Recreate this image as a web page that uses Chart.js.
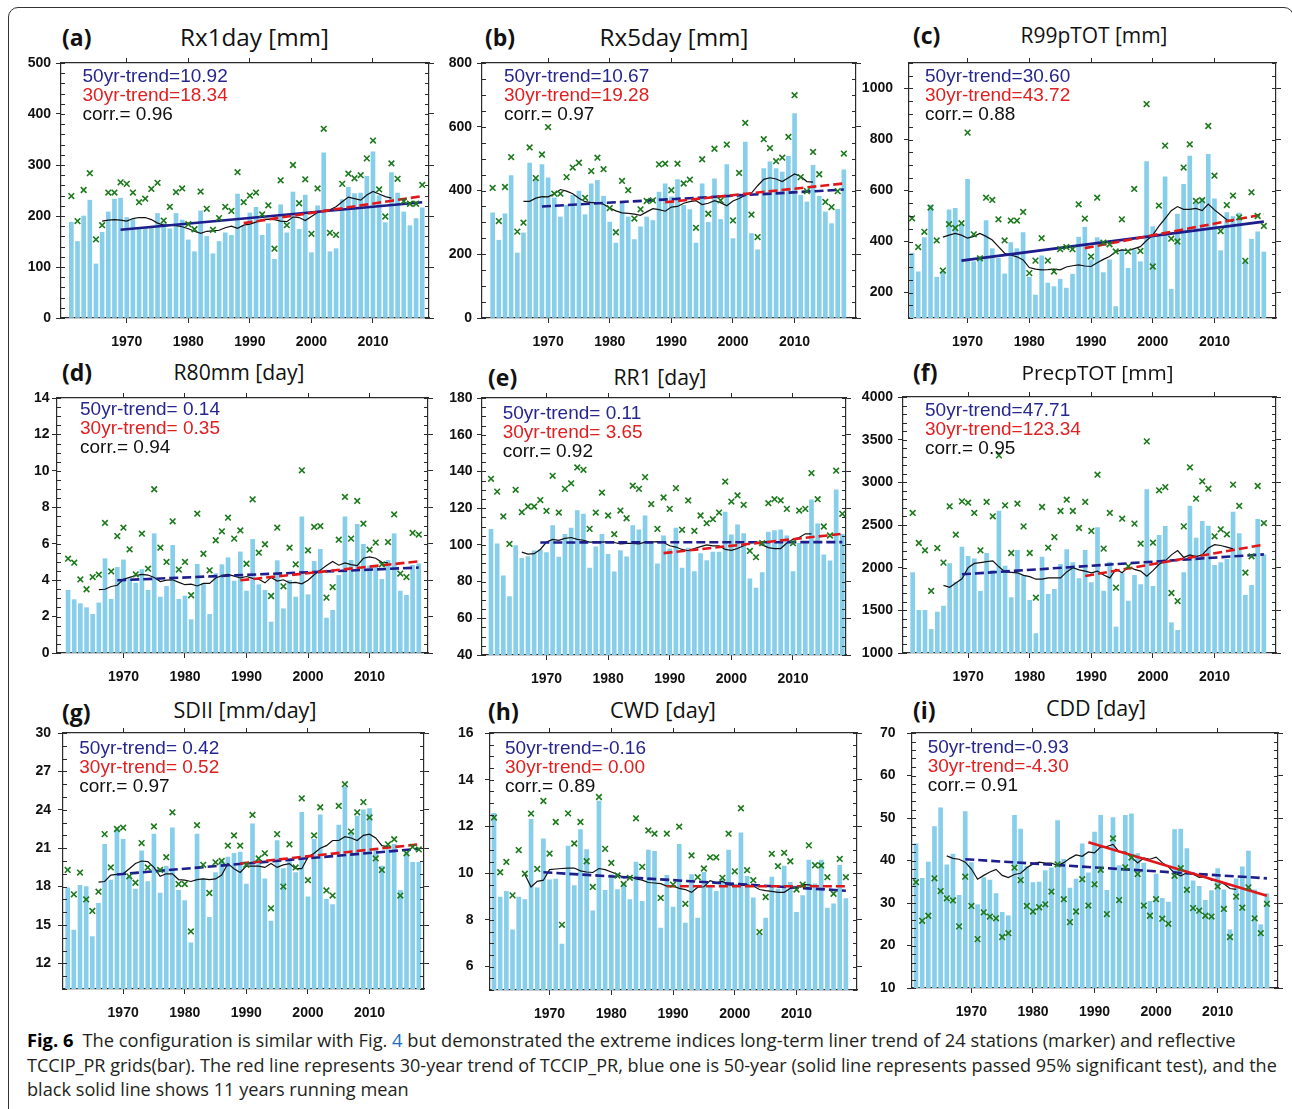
<!DOCTYPE html>
<html>
<head>
<meta charset="utf-8">
<title>Fig. 6 extreme indices trends</title>
<script src="https://cdn.jsdelivr.net/npm/chart.js@4.4.1/dist/chart.umd.min.js"></script>
<style>
  html, body { margin: 0; padding: 0; background: #fff; }
  body { width: 1292px; height: 1109px; position: relative; overflow: hidden; font-family: "Open Sans", "Noto Sans", sans-serif; }
  #frame { position: absolute; left: 8px; top: 7px; width: 1286px; height: 1140px; border: 1.5px solid #333; border-radius: 10px; box-sizing: border-box; }
  .letter { position: absolute; font-weight: 700; font-size: 23px; line-height: 1; transform: translateY(-50%); color: #111; white-space: nowrap; }
  .title { position: absolute; font-size: 22px; line-height: 1; transform: translate(-50%, -50%); color: #111; white-space: nowrap; }
  .cap { position: absolute; left: 27px; font-size: 18px; line-height: 1; transform: translateY(-50%); white-space: nowrap; color: #231f20; }
  .cap b { color: #000; }
  .cap .ref { color: #1a6ebd; }
</style>
</head>
<body>
<div id="frame"></div>
<div class="cap" id="cap1" style="top:1040px"><b>Fig. 6</b>&ensp;The configuration is similar with Fig. <span class="ref">4</span> but demonstrated the extreme indices long-term liner trend of 24 stations (marker) and reflective</div>
<div class="cap" id="cap2" style="top:1065px">TCCIP_PR grids(bar). The red line represents 30-year trend of TCCIP_PR, blue one is 50-year (solid line represents passed 95% significant test), and the</div>
<div class="cap" id="cap3" style="top:1089px">black solid line shows 11 years running mean</div>
<script>
// ---- data ----
const years = [1961,1962,1963,1964,1965,1966,1967,1968,1969,1970,1971,1972,1973,1974,1975,1976,1977,1978,1979,1980,
  1981,1982,1983,1984,1985,1986,1987,1988,1989,1990,1991,1992,1993,1994,1995,1996,1997,1998,1999,2000,
  2001,2002,2003,2004,2005,2006,2007,2008,2009,2010,2011,2012,2013,2014,2015,2016,2017,2018];
const meanYears = years.slice(5, 53); // 11-yr running mean, 1966-2013
const trend50Years = [1969, 2018];
const trend30Years = [1989, 2018];
const xTicks = [1970, 1980, 1990, 2000, 2010];

// (a) Rx1day
const rx1dayBar = [188,150,200,231,106,168,208,233,235,197, 193,177,176,180,205,185,175,205,192,153,
  130,210,160,126,150,167,162,243,180,206, 217,162,185,115,222,167,247,174,241,128,
  220,324,130,136,232,256,244,245,278,326, 240,187,285,245,208,181,195,216];
const rx1dayStn = [239,190,251,284,154,182,246,246,266,263, 246,227,234,253,265,191,218,247,254,184,
  174,248,214,173,196,218,210,286,227,240, 246,203,221,136,270,182,300,225,272,165,
  254,371,167,163,263,283,274,280,313,348, 252,199,303,273,229,224,224,261];
const rx1dayMean = [190,192,193,192,190,195,197,197,193,186, 182,182,181,179,175,170,166,170,171,172,
  177,180,176,182,184,188,193,194,193,190, 189,198,197,191,199,207,211,212,218,228,
  237,234,231,241,248,243,238,235];
const rx1dayTrend50 = [173, 227];
const rx1dayTrend30 = [186, 239];
const rx1dayNotes = ['50yr-trend=10.92', '30yr-trend=18.34', 'corr.= 0.96'];
const rx1dayTicks = [0, 100, 200, 300, 400, 500];

// (b) Rx5day
const rx5dayBar = [330,244,327,447,204,267,486,434,481,440, 377,317,354,385,398,324,421,432,382,301,
  235,364,317,246,286,317,306,395,421,380, 434,354,340,235,421,300,437,309,481,249,
  390,552,265,214,469,490,469,458,507,641, 385,364,479,382,333,296,341,465];
const rx5dayStn = [408,304,411,505,271,299,535,439,513,599, 390,390,442,472,487,377,461,503,467,345,
  269,430,401,312,341,367,369,482,484,401, 484,422,434,283,498,327,531,369,544,306,
  455,612,324,254,561,533,492,503,568,699, 442,398,521,451,364,348,398,516];
const rx5dayMean = [366,366,376,381,380,390,403,398,390,376, 365,362,362,357,345,336,330,328,326,322,
  333,343,340,335,348,350,360,365,368,356, 360,368,362,352,367,375,385,392,415,435,
  440,436,428,440,452,444,428,426];
const rx5dayTrend50 = [350, 403];
const rx5dayTrend30 = [363, 422];
const rx5dayNotes = ['50yr-trend=10.67', '30yr-trend=19.28', 'corr.= 0.97'];
const rx5dayTicks = [0, 200, 400, 600, 800];

// (c) R99pTOT
const r99Bar = [354,281,415,543,260,282,524,530,465,644, 321,341,482,372,334,273,396,372,435,260,
  190,344,237,223,252,217,272,417,456,328, 415,278,328,145,367,295,367,321,713,458,
  419,654,213,508,624,735,552,569,742,567, 364,513,498,511,325,409,438,359];
const r99Stn = [491,378,438,533,404,286,468,453,472,827, 428,334,572,563,487,404,482,482,516,276,
  325,413,325,282,370,378,370,546,490,341, 572,396,389,361,487,361,606,363,939,302,
  541,776,411,400,690,781,559,562,853,658, 441,543,580,495,324,593,500,461];
const r99Mean = [417,425,432,425,413,420,432,420,406,380, 354,347,340,328,298,292,289,290,292,289,
  300,305,308,304,302,317,330,341,360,367, 364,372,380,404,425,460,490,521,537,526,
  526,530,521,547,524,505,485,479];
const r99Trend50 = [325, 478];
const r99Trend30 = [374, 507];
const r99Notes = ['50yr-trend=30.60', '30yr-trend=43.72', 'corr.= 0.88'];
const r99Ticks = [200, 400, 600, 800, 1000];

// (d) R80mm
const r80Bar = [3.44,2.93,2.71,2.49,2.12,2.75,5.18,2.95,4.70,5.11, 4.08,3.84,4.58,3.44,6.55,3.07,3.66,5.91,2.95,3.13,
  1.83,4.87,3.81,2.12,4.36,4.85,5.23,3.95,5.55,3.40, 6.24,3.75,3.44,1.70,5.07,2.43,3.99,3.07,7.47,3.20,
  5.03,5.69,1.92,2.34,4.26,7.47,5.09,7.06,5.97,4.78, 4.81,4.04,5.09,6.55,3.40,3.17,4.81,4.90];
const r80Stn = [5.18,4.96,4.04,3.50,4.17,4.30,7.14,4.48,6.42,6.88, 5.69,4.32,6.55,4.63,8.99,5.78,5.00,7.23,4.58,5.00,
  3.17,7.65,5.45,4.54,6.19,6.68,7.43,6.28,6.73,4.90, 8.44,5.51,5.97,3.13,6.88,3.66,5.78,4.87,10.03,5.64,
  6.92,6.97,3.04,3.62,6.22,8.57,6.28,8.35,7.10,5.67, 6.06,4.87,6.09,7.61,4.36,4.17,6.59,6.50];
const r80Mean = [3.48,3.50,3.65,3.72,4.05,4.15,4.25,4.32,4.28,4.15, 3.92,4.00,4.02,3.88,3.75,3.78,3.68,3.82,3.82,4.12,
  4.25,4.32,4.22,4.12,4.20,4.10,4.05,3.85,4.15,3.95, 4.02,3.85,3.88,3.80,4.00,4.30,4.55,4.80,5.02,4.82,
  4.95,4.85,4.80,5.20,5.28,5.20,4.98,4.95];
const r80Trend50 = [3.99, 4.69];
const r80Trend30 = [3.99, 5.03];
const r80Notes = ['50yr-trend= 0.14', '30yr-trend= 0.35', 'corr.= 0.94'];
const r80Ticks = [0, 2, 4, 6, 8, 10, 12, 14];

// (e) RR1
const rr1Bar = [108.5,100.5,83.1,71.8,99.6,92.7,93.6,96.7,97.3,95.8, 110.5,93.3,105.8,109.1,118.7,116.7,87.3,98.9,105.8,94.9,
  85.3,96.9,93.5,110.5,108.2,115.8,101.8,89.6,104.9,97.8, 109.1,87.3,98.2,85.5,95.3,91.5,96.0,96.0,117.8,105.5,
  110.9,106.2,81.5,76.4,84.9,106.9,107.8,108.2,104.9,85.5, 100.9,101.5,124.5,111.5,94.5,91.3,130.0,105.8];
const rr1Stn = [136,129,115.5,100.5,130,117.8,120.9,120.9,124.4,118.5, 137.6,117.6,130.5,133.5,142.2,140.9,108.7,117.6,128.5,116.0,
  105.8,118.7,114.5,132.2,130.5,136.9,122.2,108.7,125.8,119.6, 130.9,108.2,124.2,107.6,116.0,111.8,114.0,117.6,134.5,123.6,
  126.9,121.8,96.7,93.3,100.9,122.7,124.9,124.2,119.6,100.9, 118.7,119.6,139.1,124.9,110.0,105.1,140.4,116.9];
const rr1Mean = [96.0,95.0,95.2,97.5,101.5,103.0,102.5,103.5,104.0,103.0, 102.5,101.5,101.5,101.5,101.8,101.3,100.5,100.8,100.8,100.5,
  101.5,101.5,101.8,101.3,99.5,98.8,97.5,96.8,98.0,99.0, 100.0,99.5,99.5,97.5,97.0,98.0,99.5,101.0,101.5,100.0,
  98.5,98.0,98.0,101.0,103.0,104.0,106.0,106.0];
const rr1Trend50 = [101.3, 101.5];
const rr1Trend30 = [95.5, 106.0];
const rr1Notes = ['50yr-trend= 0.11', '30yr-trend= 3.65', 'corr.= 0.92'];
const rr1Ticks = [40, 60, 80, 100, 120, 140, 160, 180];

// (f) PrecpTOT
const precBar = [1941,1500,1500,1277,1480,1551,2047,1832,2242,2133, 2105,1723,2168,1969,2664,2020,1648,2203,1910,1617,
  1227,2125,1688,1746,2039,2211,2059,1871,2203,1824, 2469,1727,2066,1305,1930,1609,1910,1801,2914,1781,
  2379,2484,1355,1266,1941,2723,2348,2543,2488,2027, 2059,2098,2652,2398,1676,1793,2566,2152];
const precStn = [2641,2289,2203,1727,2230,2059,2719,2387,2777,2762, 2641,2203,2770,2602,3316,2730,2172,2750,2484,2172,
  1648,2711,2234,2359,2664,2797,2664,2465,2770,2430, 3090,2223,2641,1766,2574,2016,2516,2281,3480,2293,
  2906,2945,1703,1609,2484,3176,2809,3012,2926,2367, 2449,2391,2973,2723,1941,2133,2957,2523];
const precMean = [1793,1770,1820,1870,2000,2050,2060,2070,2080,2010, 1950,1945,1940,1910,1895,1865,1865,1880,1880,1880,
  1950,2000,1975,1960,1940,1960,1915,1880,1980,1940, 2010,1980,1960,1900,1965,2040,2080,2150,2200,2120,
  2150,2130,2150,2230,2270,2260,2240,2220];
const precTrend50 = [1922, 2156];
const precTrend30 = [1902, 2270];
const precNotes = ['50yr-trend=47.71', '30yr-trend=123.34', 'corr.= 0.95'];
const precTicks = [1000, 1500, 2000, 2500, 3000, 3500, 4000];

// (g) SDII
const sdiiBar = [17.9,14.6,18.1,18.0,14.1,16.7,21.3,18.5,22.5,21.7, 18.8,17.8,20.8,18.4,22.1,17.5,19.6,22.6,17.7,16.9,
  13.6,22.1,18.6,15.6,19.1,20.0,20.3,20.6,20.7,18.2, 22.9,20.1,18.6,15.3,21.6,19.4,20.0,19.1,23.8,17.2,
  21.7,23.6,17.0,16.6,22.8,25.8,22.2,23.5,24.0,24.1, 21.0,19.6,20.9,21.3,17.7,20.7,19.9,19.9];
const sdiiStn = [19.3,17.4,19.1,17.0,16.1,17.6,22.1,19.5,22.5,22.6, 18.8,18.3,21.4,19.5,22.7,19.3,20.3,23.8,18.2,18.2,
  14.5,22.8,19.7,17.5,19.9,20.0,21.2,22.0,21.2,19.7, 23.6,20.2,20.6,16.3,22.1,18.0,21.3,19.5,24.9,18.5,
  22.0,24.2,17.7,17.3,24.3,26.0,22.3,23.8,24.6,23.4, 20.2,19.3,21.3,21.7,17.3,20.6,21.1,20.9];
const sdiiMean = [18.35,18.4,18.9,18.95,19.0,19.4,19.8,20.0,19.95,19.5, 18.8,19.0,19.0,18.55,18.5,18.4,18.55,18.6,18.55,18.6,
  18.9,19.8,19.4,19.1,19.6,19.6,19.6,19.5,19.8,19.5, 19.7,19.8,19.4,19.4,20.3,20.6,21.0,21.2,21.6,21.6,
  21.9,21.8,21.6,22.0,22.1,21.8,21.2,21.1];
const sdiiTrend50 = [18.95, 20.95];
const sdiiTrend30 = [19.8, 21.3];
const sdiiNotes = ['50yr-trend= 0.42', '30yr-trend= 0.52', 'corr.= 0.97'];
const sdiiTicks = [12, 15, 18, 21, 24, 27, 30];

// (h) CWD
const cwdBar = [12.56,8.98,9.22,7.58,8.98,8.87,12.30,9.37,11.47,9.72, 9.75,6.97,11.16,9.47,11.87,11.01,8.39,13.09,9.27,9.94,
  9.30,9.58,8.87,10.47,8.79,10.99,10.94,7.65,9.91,8.55, 11.23,7.86,9.94,8.08,10.04,9.44,9.22,9.72,10.99,9.51,
  11.73,9.87,8.94,7.36,8.08,9.83,9.32,10.30,9.61,8.32, 9.04,10.56,9.54,10.56,8.51,8.69,10.34,8.91];
const cwdStn = [12.38,10.04,10.48,9.05,10.99,9.98,12.55,10.18,13.09,10.84, 12.19,7.79,12.56,11.27,12.19,10.51,9.41,13.26,11.04,10.44,
  9.90,9.54,9.80,12.35,10.27,11.83,11.69,8.94,11.69,9.51, 11.99,8.69,10.76,9.83,10.20,10.68,10.68,9.80,11.69,10.08,
  12.78,10.13,9.70,7.48,8.98,10.83,10.30,10.87,10.51,9.30, 9.51,11.19,10.34,10.33,9.83,9.12,10.61,9.83];
const cwdMean = [9.94,9.41,9.65,9.70,10.15,10.18,10.20,10.22,10.22,10.10, 10.05,10.03,10.20,10.15,10.05,9.95,9.80,9.85,9.75,9.70,
  9.60,9.58,9.55,9.45,9.45,9.35,9.30,9.18,9.40,9.42, 9.68,9.60,9.65,9.50,9.48,9.48,9.50,9.45,9.30,9.25,
  9.22,9.18,9.18,9.35,9.40,9.52,9.50,9.45];
const cwdTrend50 = [10.04, 9.25];
const cwdTrend30 = [9.44, 9.44];
const cwdNotes = ['50yr-trend=-0.16', '30yr-trend= 0.00', 'corr.= 0.89'];
const cwdTicks = [6, 8, 10, 12, 14, 16];

// (i) CDD
const cddBar = [43.9,35.8,39.6,48.0,52.4,39.0,41.5,31.8,51.5,39.5, 29.6,36.0,35.4,32.2,27.8,27.0,50.6,47.4,38.6,34.8,
  34.9,37.6,38.3,49.4,40.3,33.5,35.6,43.9,37.1,46.7, 50.6,33.0,50.1,38.8,50.6,51.0,41.6,39.4,30.4,36.8,
  31.1,30.2,47.3,47.4,42.8,35.2,33.9,30.6,32.9,38.1, 33.1,23.7,35.7,38.5,42.2,33.1,24.9,32.2];
const cddStn = [34.9,25.8,27.0,35.8,32.8,31.1,30.6,24.5,36.2,29.3, 21.5,27.8,26.8,26.4,22.0,22.9,38.3,35.4,29.3,28.0,
  29.0,29.7,32.7,39.1,30.9,25.5,28.0,35.6,29.4,34.4, 37.8,27.4,45.2,30.7,38.4,40.7,36.8,29.4,27.0,30.9,
  26.3,25.1,36.4,38.2,33.1,28.8,28.2,27.0,26.8,33.9, 28.6,22.0,31.5,28.9,33.7,26.4,22.9,29.8];
const cddMean = [41.1,40.5,40.3,39.6,38.0,35.6,36.5,37.3,37.9,36.5, 36.0,36.7,37.0,38.3,39.2,39.6,39.4,39.4,38.8,39.5,
  40.5,41.3,41.0,42.0,41.8,43.2,43.3,43.8,42.0,42.0, 40.8,39.4,40.6,40.3,40.8,39.5,38.5,37.0,36.4,37.1,
  36.8,36.0,36.2,35.4,35.2,34.5,33.4,33.2];
const cddTrend50 = [40.3, 35.8];
const cddTrend30 = [44.3, 31.7];
const cddNotes = ['50yr-trend=-0.93', '30yr-trend=-4.30', 'corr.= 0.91'];
const cddTicks = [10, 20, 30, 40, 50, 60, 70];

// ---- styling ----
const BAR = '#87ceeb';
const GREEN = '#1c7a1c';
const NAVY = '#1d1d8c';
const RED = '#e0181c';
const TXT_BLUE = '#26268f';
const TXT_RED = '#e02020';
const AXIS = '#2b2b2b';
const TICK_FONT = { family: "'Liberation Sans', Arial, sans-serif", size: 14, weight: 'bold' };

// layout: box = plot area [left, top, right, bottom] in page px
const panels = [
  { letter: '(a)', title: 'Rx1day [mm]', bar: rx1dayBar, stn: rx1dayStn, mean: rx1dayMean, t50: rx1dayTrend50, t30: rx1dayTrend30,
    notes: rx1dayNotes, yTicks: rx1dayTicks, y: [0, 500], minor: 20, x: [1959.32, 2019.1], box: [61, 63, 429, 318],
    solid50: true, solid30: false, letterAt: [62, 37], titleAt: [254.5, 37, 149], noteAt: [82.5, 76.7], gap: 10 },
  { letter: '(b)', title: 'Rx5day [mm]', bar: rx5dayBar, stn: rx5dayStn, mean: rx5dayMean, t50: rx5dayTrend50, t30: rx5dayTrend30,
    notes: rx5dayNotes, yTicks: rx5dayTicks, y: [0, 800], minor: 50, x: [1959.27, 2019.97], box: [482, 63, 856, 318],
    solid50: false, solid30: false, letterAt: [485, 37], titleAt: [674, 37, 149], noteAt: [504, 76.7], gap: 10 },
  { letter: '(c)', title: 'R99pTOT [mm]', bar: r99Bar, stn: r99Stn, mean: r99Mean, t50: r99Trend50, t30: r99Trend30,
    notes: r99Notes, yTicks: r99Ticks, y: [100, 1100], minor: 50, x: [1960.51, 2019.97], box: [909, 63, 1276, 318],
    solid50: true, solid30: false, letterAt: [913, 35], titleAt: [1094, 35, 147], noteAt: [925, 76.7], gap: 16 },
  { letter: '(d)', title: 'R80mm [day]', bar: r80Bar, stn: r80Stn, mean: r80Mean, t50: r80Trend50, t30: r80Trend30,
    notes: r80Notes, yTicks: r80Ticks, y: [0, 14], minor: 0.5, x: [1959.2, 2019.5], box: [57, 398, 428, 653],
    solid50: false, solid30: false, letterAt: [62, 372], titleAt: [239, 372, 131], noteAt: [80, 410], gap: 7.5 },
  { letter: '(e)', title: 'RR1 [day]', bar: rr1Bar, stn: rr1Stn, mean: rr1Mean, t50: rr1Trend50, t30: rr1Trend30,
    notes: rr1Notes, yTicks: rr1Ticks, y: [40, 180], minor: 5, x: [1959.54, 2018.6], box: [482, 398, 846, 655],
    solid50: false, solid30: false, letterAt: [488, 377], titleAt: [660, 377, 93], noteAt: [502.7, 413.3], gap: 9.5 },
  { letter: '(f)', title: 'PrecpTOT [mm]', bar: precBar, stn: precStn, mean: precMean, t50: precTrend50, t30: precTrend30,
    notes: precNotes, yTicks: precTicks, y: [1000, 4000], minor: 100, x: [1959.43, 2019.97], box: [903, 397, 1276, 653],
    solid50: false, solid30: false, letterAt: [913, 372], titleAt: [1097.5, 372, 152], noteAt: [925, 410.7], gap: 10 },
  { letter: '(g)', title: 'SDII [mm/day]', bar: sdiiBar, stn: sdiiStn, mean: sdiiMean, t50: sdiiTrend50, t30: sdiiTrend30,
    notes: sdiiNotes, yTicks: sdiiTicks, y: [10, 30], minor: 1, x: [1960.24, 2018.84], box: [63, 733, 424, 989],
    solid50: false, solid30: false, letterAt: [62, 712], titleAt: [245, 710, 143], noteAt: [79.3, 748.3], gap: 12 },
  { letter: '(h)', title: 'CWD [day]', bar: cwdBar, stn: cwdStn, mean: cwdMean, t50: cwdTrend50, t30: cwdTrend30,
    notes: cwdNotes, yTicks: cwdTicks, y: [5, 16], minor: 0.5, x: [1960.35, 2019.8], box: [490, 733, 857, 990],
    solid50: false, solid30: false, letterAt: [488, 711], titleAt: [663, 710, 106], noteAt: [505, 748.3], gap: 16.5 },
  { letter: '(i)', title: 'CDD [day]', bar: cddBar, stn: cddStn, mean: cddMean, t50: cddTrend50, t30: cddTrend30,
    notes: cddNotes, yTicks: cddTicks, y: [10, 70], minor: 2, x: [1960.35, 2019.8], box: [912, 733, 1278, 988],
    solid50: false, solid30: true, letterAt: [913, 710], titleAt: [1096, 708, 100], noteAt: [927.7, 747.3], gap: 16.5 },
];

// minor ticks on the left/right frame and the three text lines in the plot
const frameExtras = {
  id: 'frameExtras',
  afterDraw(chart, args, opts) {
    const { ctx, chartArea: a } = chart;
    const y = chart.scales.y;
    ctx.save();
    ctx.strokeStyle = AXIS;
    ctx.lineWidth = 1;
    ctx.beginPath();
    const n = Math.round((opts.max - opts.min) / opts.step);
    for (let k = 0; k <= n; k++) {
      const py = Math.round(y.getPixelForValue(opts.min + k * opts.step)) + 0.5;
      ctx.moveTo(a.left, py); ctx.lineTo(a.left + 4, py);
      ctx.moveTo(a.right, py); ctx.lineTo(a.right - 4, py);
    }
    ctx.stroke();
    ctx.font = "19px 'Liberation Sans', Arial, sans-serif";
    ctx.textBaseline = 'middle';
    ctx.textAlign = 'left';
    const colors = [TXT_BLUE, TXT_RED, '#111'];
    opts.notes.forEach((t, i) => {
      ctx.fillStyle = colors[i];
      ctx.fillText(t, opts.nx, opts.ny + i * 19);
    });
    ctx.restore();
  }
};

Chart.defaults.animation = false;

function pts(xs, ys) { return xs.map((x, i) => ({ x: x, y: ys[i] })); }

function fitText(el, target) {
  const w = el.getBoundingClientRect().width;
  const fs = parseFloat(getComputedStyle(el).fontSize);
  el.style.fontSize = (fs * target / w).toFixed(2) + 'px';
}

panels.forEach(p => {
  const [L, T, R, B] = p.box;
  // room around the plot area; top is generous so Chart.js label padding never pushes the area down
  const padL = 60, padR = 14, padT = 26, padB = 36;
  const left = L - padL, top = T - padT;

  const lt = document.createElement('div');
  lt.className = 'letter';
  lt.textContent = p.letter;
  lt.style.left = p.letterAt[0] + 'px';
  lt.style.top = p.letterAt[1] + 'px';
  document.body.appendChild(lt);

  const tt = document.createElement('div');
  tt.className = 'title';
  tt.textContent = p.title;
  tt.style.left = p.titleAt[0] + 'px';
  tt.style.top = p.titleAt[1] + 'px';
  document.body.appendChild(tt);
  fitText(tt, p.titleAt[2]);

  const cv = document.createElement('canvas');
  cv.width = (R - L) + padL + padR;
  cv.height = (B - T) + padT + padB;
  cv.style.position = 'absolute';
  cv.style.left = left + 'px';
  cv.style.top = top + 'px';
  document.body.appendChild(cv);

  const setX = s => { s.ticks = xTicks.map(v => ({ value: v })); };
  const setY = s => { s.ticks = p.yTicks.map(v => ({ value: v })); };
  const xBase = {
    type: 'linear', min: p.x[0], max: p.x[1], offset: false,
    afterBuildTicks: setX,
    grid: { drawOnChartArea: false, offset: false, tickLength: 5, color: AXIS, lineWidth: 1 },
    border: { display: true, color: AXIS, width: 1.2 }
  };
  const yBase = {
    type: 'linear', min: p.y[0], max: p.y[1],
    afterBuildTicks: setY,
    grid: { drawOnChartArea: false, tickLength: 5, color: AXIS, lineWidth: 1 },
    border: { display: true, color: AXIS, width: 1.2 }
  };

  new Chart(cv, {
    type: 'bar',
    data: {
      datasets: [
        { type: 'scatter', data: pts(years, p.stn), pointStyle: 'crossRot', pointRadius: 4,
          borderColor: GREEN, backgroundColor: GREEN, borderWidth: 1.6, order: 1 },
        { type: 'line', data: pts(trend30Years, p.t30), borderColor: RED, borderWidth: 2.6,
          borderDash: p.solid30 ? [] : [9, 4], pointRadius: 0, order: 2 },
        { type: 'line', data: pts(trend50Years, p.t50), borderColor: NAVY, borderWidth: 2.6,
          borderDash: p.solid50 ? [] : [9, 4], pointRadius: 0, order: 3 },
        { type: 'line', data: pts(meanYears, p.mean), borderColor: '#111', borderWidth: 1.2,
          pointRadius: 0, tension: 0, order: 4 },
        { type: 'bar', data: pts(years, p.bar), backgroundColor: BAR, barThickness: 4, order: 10 }
      ]
    },
    options: {
      responsive: false,
      layout: { padding: 0 },
      plugins: {
        legend: { display: false },
        tooltip: { enabled: false },
        frameExtras: { min: p.y[0], max: p.y[1], step: p.minor, notes: p.notes,
          nx: p.noteAt[0] - left, ny: p.noteAt[1] - top }
      },
      scales: {
        x: Object.assign({}, xBase, {
          position: 'bottom',
          ticks: { font: TICK_FONT, color: '#111', padding: 11, maxRotation: 0, autoSkip: false, callback: v => String(v) },
          afterFit: s => { s.height = padB; }
        }),
        x2: Object.assign({}, xBase, {
          position: 'top',
          ticks: { display: false },
          afterFit: s => { s.height = padT; }
        }),
        y: Object.assign({}, yBase, {
          position: 'left',
          ticks: { font: TICK_FONT, color: '#111', padding: p.gap - 5, callback: v => String(v) },
          afterFit: s => { s.width = padL; }
        }),
        y2: Object.assign({}, yBase, {
          position: 'right',
          ticks: { display: false },
          afterFit: s => { s.width = padR; }
        })
      }
    },
    plugins: [frameExtras]
  });
});

fitText(document.getElementById('cap1'), 1209);
fitText(document.getElementById('cap2'), 1251);
fitText(document.getElementById('cap3'), 382);
</script>
</body>
</html>
